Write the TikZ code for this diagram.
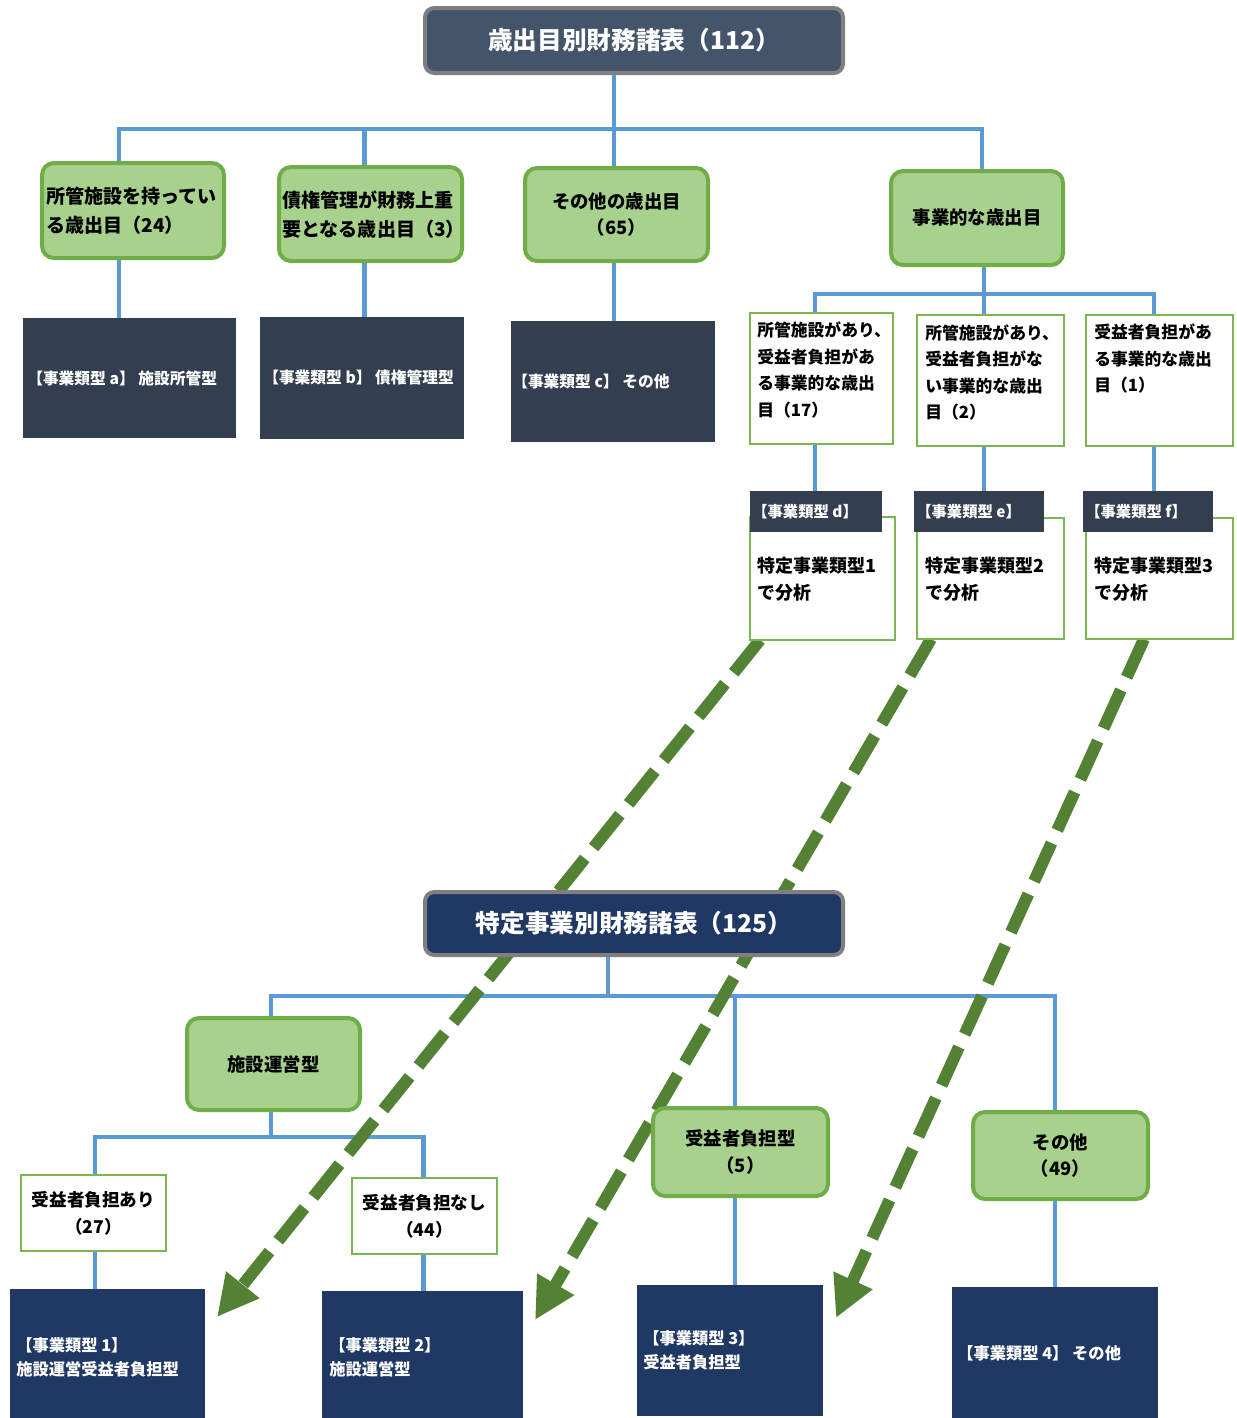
\documentclass[tikz,border=0pt]{standalone}
\usepackage{fontspec}
\setmainfont{Noto Sans CJK JP}
\usetikzlibrary{arrows.meta}
\pgfdeclarelayer{bg}
\pgfdeclarelayer{mid}
\pgfsetlayers{bg,mid,main}
\definecolor{cblue}{HTML}{5B9BD5}
\definecolor{cgfill}{HTML}{A9D18E}
\definecolor{cgborder}{HTML}{70AD47}
\definecolor{cwborder}{HTML}{7DB553}
\definecolor{carrow}{HTML}{548235}
\definecolor{cdark}{HTML}{333F50}
\definecolor{cslate}{HTML}{44546A}
\definecolor{cnavy}{HTML}{203864}
\definecolor{cgray}{HTML}{7F7F7F}
\begin{document}
\begin{tikzpicture}[x=0.75pt,y=-0.75pt,
  box/.style={rectangle, inner sep=0pt, outer sep=0pt},
  titlebox/.style={box, rounded corners=7pt, draw=cgray, line width=3pt, text=white, font=\bfseries\fontsize{18.5}{22}\selectfont},
  gbox/.style={box, rounded corners=9pt, draw=cgborder, fill=cgfill, line width=3pt, align=center, font=\bfseries\fontsize{13.8}{20}\selectfont},
  dbox/.style={box, fill=cdark},
  nbox/.style={box, fill=cnavy},
  wbox/.style={box, draw=cwborder, line width=1pt, fill=white, align=center, font=\bfseries\fontsize{13.2}{20}\selectfont},
  gtxt/.style={inner sep=0pt, anchor=west, align=left, font=\bfseries\fontsize{14.3}{21.5}\selectfont},
  dtxt/.style={inner sep=0pt, anchor=west, align=left, text=white, font=\bfseries\fontsize{11.8}{18}\selectfont},
  ltxt/.style={inner sep=0pt, anchor=west, align=left, text=white, font=\bfseries\fontsize{11.5}{13}\selectfont},
  wtxt/.style={inner sep=0pt, anchor=west, align=left, font=\bfseries\fontsize{12.6}{19.9}\selectfont},
  btxt/.style={inner sep=0pt, anchor=west, align=left, font=\bfseries\fontsize{13.5}{20.2}\selectfont},
  ntxt/.style={inner sep=0pt, anchor=west, align=left, text=white, font=\bfseries\fontsize{12.2}{18}\selectfont},
  conn/.style={draw=cblue, line width=3.6pt},
  harrow/.style={draw=carrow, line width=9pt, dash pattern=on 31.5pt off 10.5pt, -{Triangle[length=31pt,width=30pt]}}
]
\useasboundingbox (0,0) rectangle (1237,1418);
\begin{pgfonlayer}{bg}
\fill[white] (0,0) rectangle (1237,1418);
\end{pgfonlayer}

% ---------- top part ----------
\node[titlebox, fill=cslate, minimum width=313.5pt, minimum height=48.75pt] (T1) at (634,40.5) {歳出目別財務諸表（112）};

\node[gbox, minimum width=136.5pt, minimum height=71.25pt] (G1) at (133,210.5) {};
\node[gtxt] (G1t) at (46,210.5) {所管施設を持ってい\\る歳出目（24）};
\node[gbox, minimum width=137.25pt, minimum height=70.5pt] (G2) at (370.5,214) {};
\node[gtxt] (G2t) at (282,214.5) {債権管理が財務上重\\要となる歳出目（3）};
\node[gbox, minimum width=137.25pt, minimum height=69.75pt] (G3) at (616.5,214.5) {その他の歳出目\\（65）};
\node[gbox, minimum width=129pt, minimum height=70.5pt] (G4) at (977,218) {事業的な歳出目};

\node[dbox, minimum width=159.75pt, minimum height=90pt] (Da) at (129.5,378) {};
\node[dtxt] (Dat) at (27,378) {【事業類型 a】 施設所管型};
\node[dbox, minimum width=153pt, minimum height=91.5pt] (Db) at (362,378) {};
\node[dtxt] (Dbt) at (263,378) {【事業類型 b】 債権管理型};
\node[dbox, minimum width=153pt, minimum height=90.75pt] (Dc) at (613,381.5) {};
\node[dtxt] (Dct) at (512,382) {【事業類型 c】 その他};

\node[wbox, minimum width=107.25pt, minimum height=98.25pt] (Wd) at (821.5,378.5) {};
\node[wtxt] (Wdt) at (757,370) {所管施設があり、\\受益者負担があ\\る事業的な歳出\\目（17）};
\node[wbox, minimum width=110.25pt, minimum height=98.25pt] (We) at (990.5,380.5) {};
\node[wtxt] (Wet) at (925,372.5) {所管施設があり、\\受益者負担がな\\い事業的な歳出\\目（2）};
\node[wbox, minimum width=110.25pt, minimum height=98.25pt] (Wf) at (1159.5,380.5) {};
\node[wtxt] (Wft) at (1094,358.5) {受益者負担があ\\る事業的な歳出\\目（1）};

\node[wbox, minimum width=108.75pt, minimum height=92.25pt] (Bd) at (822.5,578.5) {};
\node[btxt] (Bdt) at (757,579.5) {特定事業類型1\\で分析};
\node[wbox, minimum width=110.25pt, minimum height=90.75pt] (Be) at (990.5,578.5) {};
\node[btxt] (Bet) at (925,579.5) {特定事業類型2\\で分析};
\node[wbox, minimum width=110.25pt, minimum height=90.75pt] (Bf) at (1159.5,578.5) {};
\node[btxt] (Bft) at (1094,579.5) {特定事業類型3\\で分析};

\node[dbox, minimum width=99pt, minimum height=30.75pt] (Ld) at (816,511.5) {};
\node[ltxt] (Ldt) at (752,512) {【事業類型 d】};
\node[dbox, minimum width=97.5pt, minimum height=30.75pt] (Le) at (979,511.5) {};
\node[ltxt] (Let) at (916,512) {【事業類型 e】};
\node[dbox, minimum width=97.5pt, minimum height=30.75pt] (Lf) at (1148,511.5) {};
\node[ltxt] (Lft) at (1085,512) {【事業類型 f】};

% ---------- bottom part ----------
\node[titlebox, fill=cnavy, minimum width=313.5pt, minimum height=47.25pt] (T2) at (634,923.5) {特定事業別財務諸表（125）};

\node[gbox, minimum width=129.75pt, minimum height=69pt] (G5) at (273.5,1064) {施設運営型};
\node[gbox, minimum width=131.25pt, minimum height=66pt] (G6) at (740.5,1152) {受益者負担型\\（5）};
\node[gbox, minimum width=131.25pt, minimum height=65.25pt] (G7) at (1060.5,1155.5) {その他\\（49）};

\node[wbox, minimum width=108.75pt, minimum height=57pt] (W1) at (93.5,1213) {受益者負担あり\\（27）};
\node[wbox, minimum width=108.75pt, minimum height=57pt] (W2) at (424.5,1216) {受益者負担なし\\（44）};

\node[nbox, minimum width=146.25pt, minimum height=96.75pt] (N1) at (107.5,1353.5) {};
\node[ntxt] (N1t) at (16,1357) {【事業類型 1】\\施設運営受益者負担型};
\node[nbox, minimum width=150.75pt, minimum height=95.25pt] (N2) at (422.5,1354.5) {};
\node[ntxt] (N2t) at (329,1357) {【事業類型 2】\\施設運営型};
\node[nbox, minimum width=139.5pt, minimum height=98.25pt] (N3) at (730,1350.5) {};
\node[ntxt] (N3t) at (643,1350.5) {【事業類型 3】\\受益者負担型};
\node[nbox, minimum width=154.5pt, minimum height=98.25pt] (N4) at (1055,1352.5) {};
\node[ntxt] (N4t) at (957,1353) {【事業類型 4】 その他};

% ---------- connectors ----------
\coordinate (xa) at (119,129);
\coordinate (xb) at (364.5,129);
\coordinate (xc) at (614,129);
\coordinate (xg) at (982,129);
\coordinate (xd) at (815,294);
\coordinate (xe) at (984,294);
\coordinate (xf) at (1154,294);
\coordinate (xT) at (608,996);
\coordinate (x5) at (271,996);
\coordinate (x6) at (735,996);
\coordinate (x7) at (1055,996);
\coordinate (x1) at (95,1137);
\coordinate (x2) at (423.5,1137);

\begin{pgfonlayer}{bg}
\draw[conn] (T1.south -| xc) -- (xc);
\draw[conn] (G1.north -| xa) -- (xa) -- (xg) -- (G4.north -| xg);
\draw[conn] (xb) -- (G2.north -| xb);
\draw[conn] (xc) -- (G3.north -| xc);
\draw[conn] (G1.south -| xa) -- (Da.north -| xa);
\draw[conn] (G2.south -| xb) -- (Db.north -| xb);
\draw[conn] (G3.south -| xc) -- (Dc.north -| xc);
\draw[conn] (G4.south -| xe) -- (xe);
\draw[conn] (Wd.north -| xd) -- (xd) -- (xf) -- (Wf.north -| xf);
\draw[conn] (xe) -- (We.north -| xe);
\draw[conn] (Wd.south -| xd) -- (Ld.north -| xd);
\draw[conn] (We.south -| xe) -- (Le.north -| xe);
\draw[conn] (Wf.south -| xf) -- (Lf.north -| xf);
\draw[conn] (T2.south -| xT) -- (xT);
\draw[conn] (G5.north -| x5) -- (x5) -- (x7) -- (G7.north -| x7);
\draw[conn] (x6) -- (G6.north -| x6);
\draw[conn] (G5.south -| x5) -- (x5 |- x1);
\draw[conn] (W1.north -| x1) -- (x1) -- (x2) -- (W2.north -| x2);
\draw[conn] (W1.south -| x1) -- (N1.north -| x1);
\draw[conn] (W2.south -| x2) -- (N2.north -| x2);
\draw[conn] (G6.south -| x6) -- (N3.north -| x6);
\draw[conn] (G7.south -| x7) -- (N4.north -| x7);
\end{pgfonlayer}

% ---------- dashed arrows ----------
\coordinate (a1s) at (760,640);
\coordinate (a1e) at (217,1317);
\coordinate (a2s) at (931,640);
\coordinate (a2e) at (535,1320);
\coordinate (a3s) at (1144,640);
\coordinate (a3e) at (836,1318);
\begin{pgfonlayer}{mid}
\draw[harrow] (Bd.south -| a1s) -- (a1e);
\draw[harrow] (Be.south -| a2s) -- (a2e);
\draw[harrow] (Bf.south -| a3s) -- (a3e);
\end{pgfonlayer}
\end{tikzpicture}
\end{document}
